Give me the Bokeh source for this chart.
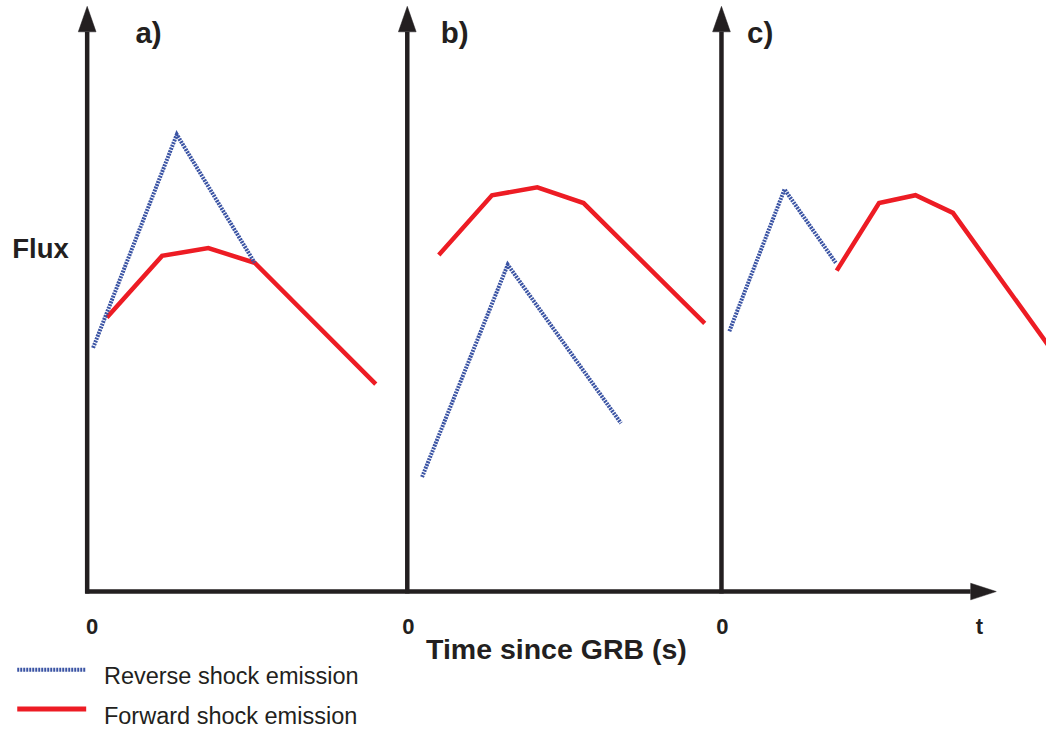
from bokeh.plotting import figure
from bokeh.models import Range1d, Label
from bokeh.embed import file_html
from bokeh.resources import INLINE

# ---------------- data (time since each panel's origin, flux) ----------------
panel_labels = ["a)", "b)", "c)"]
tick_labels = ["0", "0", "0", "t"]
x_title = "Time since GRB (s)"
y_title = "Flux"
legend_labels = ["Reverse shock emission", "Forward shock emission"]

# panel a
rs_time_a = [6, 91, 170]
rs_flux_a = [249, 467, 336]
fs_time_a = [20, 76, 123, 170, 293]
fs_flux_a = [280, 343, 351, 336, 212]
# panel b
rs_time_b = [15, 102, 217]
rs_flux_b = [117, 334, 172]
fs_time_b = [32, 86, 132, 179, 302]
fs_flux_b = [344, 405, 413, 397, 274]
# panel c
rs_time_c = [8, 64, 116]
rs_flux_c = [266, 411, 336]
fs_time_c = [117, 160, 197, 235, 348]
fs_flux_c = [328, 397, 405, 387, 229]

# ---------------- layout / style ----------------
origins = [0, 325, 644]          # where each panel's flux axis stands
axis_top = 572
head_len, head_half = 26, 9
x_axis_end = 897
INK = "#231f20"
RED = "#ed1c24"
BLUE = "#3b54a4"
FONT = "Liberation Sans"

p = figure(width=1046, height=730, output_backend="svg", toolbar_location=None,
           x_range=Range1d(-88, 974), y_range=Range1d(-142, 604),
           x_axis_location=None, y_axis_location=None, min_border=0,
           outline_line_color=None, background_fill_color="white",
           border_fill_color="white")
p.xgrid.visible = False
p.ygrid.visible = False

# axes
p.segment(x0=origins, y0=[-2] * 3, x1=origins, y1=[axis_top] * 3,
          line_color=INK, line_width=4.5)
p.segment(x0=[-2], y0=[0], x1=[x_axis_end], y1=[0], line_color=INK, line_width=4.5)
p.patches(xs=[[o - head_half, o + head_half, o] for o in origins],
          ys=[[axis_top, axis_top, axis_top + head_len] for _ in origins],
          fill_color=INK, line_color=INK, line_width=0.5)
p.patches(xs=[[x_axis_end, x_axis_end, x_axis_end + head_len]],
          ys=[[-8.5, 8.5, 0]], fill_color=INK, line_color=INK, line_width=0.5)

# curves
series = [
    (rs_time_a, rs_flux_a, fs_time_a, fs_flux_a),
    (rs_time_b, rs_flux_b, fs_time_b, fs_flux_b),
    (rs_time_c, rs_flux_c, fs_time_c, fs_flux_c),
]
for o, (rt, rf, ft, ff) in zip(origins, series):
    p.line([o + t for t in ft], ff, line_color=RED, line_width=4.5, line_join="miter")
    p.line([o + t for t in rt], rf, line_color=BLUE, line_width=4, line_dash="2 1",
           line_join="miter")

# texts
label_pos = [(49, 571), (359, 571), (670, 571)]
for txt, (x, y) in zip(panel_labels, label_pos):
    p.add_layout(Label(x=x, y=y, text=txt, text_font=FONT, text_font_style="bold",
                       text_font_size="29.5px", text_color=INK, text_baseline="alphabetic"))

p.add_layout(Label(x=-76, y=351, text=y_title, text_font=FONT, text_font_style="bold",
                   text_font_size="27.5px", text_color=INK, text_baseline="alphabetic"))

tick_x = [5, 326, 645, 906]
for txt, x in zip(tick_labels, tick_x):
    p.add_layout(Label(x=x, y=-35.5, text=txt, text_font=FONT, text_font_style="bold",
                       text_font_size="22px", text_color=INK, text_align="center",
                       text_baseline="alphabetic"))

p.add_layout(Label(x=344, y=-59, text=x_title, text_font=FONT, text_font_style="bold",
                   text_font_size="28.5px", text_color=INK, text_baseline="alphabetic"))

# legend (manual)
p.line([-71, -1], [-80, -80], line_color=BLUE, line_width=4, line_dash="2 1")
p.line([-71, -1], [-120, -120], line_color=RED, line_width=5)
for txt, y in zip(legend_labels, [-86, -127]):
    p.add_layout(Label(x=17, y=y, text=txt, text_font=FONT, text_font_size="23.5px",
                       text_color=INK, text_baseline="alphabetic"))

open("out.html", "w").write(file_html(p, INLINE))
